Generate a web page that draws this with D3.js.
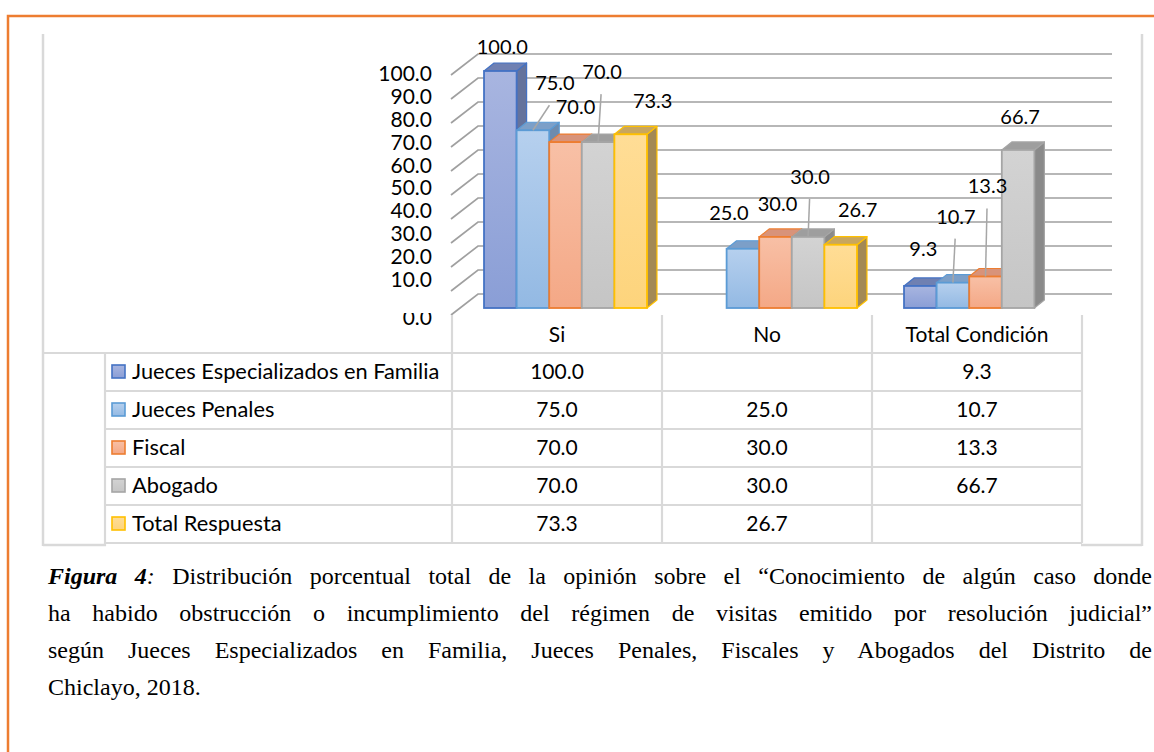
<!DOCTYPE html>
<html>
<head>
<meta charset="utf-8">
<script src="https://cdnjs.cloudflare.com/ajax/libs/d3/7.8.5/d3.min.js"></script>
<style>
  body { margin: 0; background: #fff; }
  svg { display: block; }
</style>
</head>
<body>
<div id="chart"></div>
<script>
// chart data
var categories = ["Si", "No", "Total Condición"];
var seriesNames = ["Jueces Especializados en Familia", "Jueces Penales", "Fiscal", "Abogado", "Total Respuesta"];
var juecesFamilia = [100.0, null, 9.3];
var juecesPenales = [75.0, 25.0, 10.7];
var fiscal = [70.0, 30.0, 13.3];
var abogado = [70.0, 30.0, 66.7];
var totalRespuesta = [73.3, 26.7, null];
var yTicks = [0, 10, 20, 30, 40, 50, 60, 70, 80, 90, 100];
var captionLines = [
  "Distribución porcentual total de la opinión sobre el “Conocimiento de algún caso donde",
  "ha habido obstrucción o incumplimiento del régimen de visitas emitido por resolución judicial”",
  "según Jueces Especializados en Familia, Jueces Penales, Fiscales y Abogados del Distrito de",
  "Chiclayo, 2018."
];

(function() {
  var width = 1154, height = 752;
  var values = [juecesFamilia, juecesPenales, fiscal, abogado, totalRespuesta];

  // look of each series (front gradient, top, side, outline)
  var looks = [
    { line: "#4472C4", hi: "#A8B5E0", lo: "#8A9ED6", top: "#6F80B2", side: "#65739C" },
    { line: "#5B9BD5", hi: "#B6D0EE", lo: "#93B9E3", top: "#7C9FC8", side: "#6E8BAE" },
    { line: "#ED7D31", hi: "#F8C0A6", lo: "#F4A886", top: "#D8937A", side: "#B57C62" },
    { line: "#A5A5A5", hi: "#D3D3D3", lo: "#C5C5C5", top: "#9E9E9E", side: "#8A8A8A" },
    { line: "#FFC000", hi: "#FFDD96", lo: "#FDD47C", top: "#C8A65E", side: "#A38955" }
  ];

  // where each data label sits, relative to its bar top: [dx, dy, leader]
  var labelPos = [
    [[2, -24, 0], null, [3, -37, 0]],
    [[22, -47, 1], [-14, -36, 0], [3, -66, 1]],
    [[10, -35, 0], [2, -33, 0], [2, -90, 1]],
    [[4, -70, 1], [2, -60, 1], [2, -33, 0]],
    [[22, -33, 0], [17, -35, 0], null]
  ];

  var svg = d3.select("#chart")
    .append("svg")
    .attr("width", width)
    .attr("height", height);

  var defs = svg.append("defs");

  looks.forEach(function(l, i) {
    var g = defs.append("linearGradient")
      .attr("id", "grad" + i)
      .attr("x1", 0).attr("y1", 0).attr("x2", 0).attr("y2", 1);
    g.append("stop").attr("offset", "0%").attr("stop-color", l.hi);
    g.append("stop").attr("offset", "100%").attr("stop-color", l.lo);
  });

  defs.append("clipPath").attr("id", "zeroClip")
    .append("rect").attr("x", 340).attr("y", 313).attr("width", 110).attr("height", 40);

  svg.append("rect")
    .attr("x", 8).attr("y", 16)
    .attr("width", 1300).attr("height", 900)
    .attr("fill", "none")
    .attr("stroke", "#ED7D31")
    .attr("stroke-width", 2.5);

  // scales
  var xCat = d3.scaleBand().domain(categories).range([460.5, 1090.5])
    .paddingInner(0.224).paddingOuter(0.112);
  var xSer = d3.scaleBand().domain(seriesNames).range([0, xCat.bandwidth()]);
  var y = d3.scaleLinear().domain([0, 100]).range([308, 71]);
  var yWall = d3.scaleLinear().domain([0, 100]).range([294, 54]);
  var yLabel = d3.scaleLinear().domain([10, 100]).range([280, 74]);
  var xTable = d3.scaleBand().domain(categories).range([452, 1082]);
  var yRow = d3.scaleBand().domain(seriesNames).range([353, 543]);

  var depthX = 10, depthY = 8;
  var wallX = 27, wallY = 21;
  var wallLeft = 451, wallRight = 1112;
  var sans = "Lato, 'Open Sans', sans-serif";

  // frame of the chart area
  var frame = svg.append("g").attr("stroke", "#D9D9D9").attr("stroke-width", 2.5).attr("fill", "none");
  frame.append("line").attr("x1", 43).attr("y1", 34).attr("x2", 43).attr("y2", 546);
  frame.append("line").attr("x1", 1142).attr("y1", 34).attr("x2", 1142).attr("y2", 546);
  frame.append("line").attr("x1", 43).attr("y1", 545).attr("x2", 106).attr("y2", 545);
  frame.append("line").attr("x1", 1081).attr("y1", 545).attr("x2", 1142).attr("y2", 545);

  // back wall gridlines
  var grid = svg.append("g");
  grid.selectAll(".grid")
    .data(yTicks)
    .enter().append("polyline")
    .attr("points", function(d) {
      return [wallLeft, yWall(d) + wallY, wallLeft + wallX, yWall(d), wallRight, yWall(d)].join(" ");
    })
    .attr("fill", "none")
    .attr("stroke", "#A0A0A0")
    .attr("stroke-width", 1.7);

  // y axis labels (the zero label sits lower and is cut at the top, as in the original)
  svg.append("g").selectAll("text")
    .data(yTicks)
    .enter().append("text")
    .attr("x", 432)
    .attr("y", function(d) { return yLabel(d) + (d === 0 ? 15 : 0) + 7; })
    .attr("clip-path", function(d) { return d === 0 ? "url(#zeroClip)" : null; })
    .attr("text-anchor", "end")
    .attr("font-family", sans)
    .attr("font-size", 21)
    .attr("fill", "#000")
    .text(function(d) { return d.toFixed(1); });

  // bars
  var bars = [];
  categories.forEach(function(c, ci) {
    seriesNames.forEach(function(s, si) {
      var v = values[si][ci];
      if (v === null) return;
      bars.push({ ci: ci, si: si, v: v, x: xCat(c) + xSer(s), w: xSer.bandwidth() });
    });
  });

  var barG = svg.append("g")
    .selectAll("g")
    .data(bars)
    .enter().append("g");

  barG.append("polygon")
    .attr("points", function(d) {
      var x1 = d.x + d.w, t = y(d.v), b = y(0);
      return [x1, t, x1 + depthX, t - depthY, x1 + depthX, b - depthY, x1, b].join(" ");
    })
    .attr("fill", function(d) { return looks[d.si].side; })
    .attr("stroke", function(d) { return looks[d.si].line; })
    .attr("stroke-width", 1.2)
    .attr("stroke-linejoin", "round");

  barG.append("polygon")
    .attr("points", function(d) {
      var t = y(d.v);
      return [d.x, t, d.x + depthX, t - depthY, d.x + d.w + depthX, t - depthY, d.x + d.w, t].join(" ");
    })
    .attr("fill", function(d) { return looks[d.si].top; })
    .attr("stroke", function(d) { return looks[d.si].line; })
    .attr("stroke-width", 1.2)
    .attr("stroke-linejoin", "round");

  barG.append("rect")
    .attr("x", function(d) { return d.x; })
    .attr("y", function(d) { return y(d.v); })
    .attr("width", function(d) { return d.w; })
    .attr("height", function(d) { return y(0) - y(d.v); })
    .attr("fill", function(d) { return "url(#grad" + d.si + ")"; })
    .attr("stroke", function(d) { return looks[d.si].line; })
    .attr("stroke-width", 1.8);

  // data labels with leader lines
  var labelG = svg.append("g");
  bars.forEach(function(d) {
    var p = labelPos[d.si][d.ci];
    var cx = d.x + d.w / 2, top = y(d.v);
    if (p[2]) {
      labelG.append("line")
        .attr("x1", cx).attr("y1", top)
        .attr("x2", cx + p[0] * 0.75).attr("y2", top + p[1] + 22)
        .attr("stroke", "#A6A6A6")
        .attr("stroke-width", 1.5);
    }
    labelG.append("text")
      .attr("x", cx + p[0])
      .attr("y", top + p[1] + 7)
      .attr("text-anchor", "middle")
      .attr("font-family", sans)
      .attr("font-size", 20)
      .attr("fill", "#000")
      .text(d.v.toFixed(1));
  });

  // data table
  var table = svg.append("g").attr("stroke", "#D9D9D9").attr("stroke-width", 2.2);
  table.append("line").attr("x1", 43).attr("y1", 353).attr("x2", 1082).attr("y2", 353);
  seriesNames.forEach(function(s) {
    table.append("line")
      .attr("x1", 105).attr("y1", yRow(s) + yRow.bandwidth())
      .attr("x2", 1082).attr("y2", yRow(s) + yRow.bandwidth());
  });
  table.append("line").attr("x1", 105).attr("y1", 353).attr("x2", 105).attr("y2", 546);
  categories.concat(["end"]).forEach(function(c, i) {
    var x = i < categories.length ? xTable(c) : xTable.range()[1];
    table.append("line").attr("x1", x).attr("y1", 315).attr("x2", x).attr("y2", 543);
  });

  svg.append("g").selectAll("text")
    .data(categories)
    .enter().append("text")
    .attr("x", function(d) { return xTable(d) + xTable.bandwidth() / 2; })
    .attr("y", 342)
    .attr("text-anchor", "middle")
    .attr("font-family", sans)
    .attr("font-size", 21)
    .attr("fill", "#000")
    .text(function(d) { return d; });

  var rows = svg.append("g").selectAll("g")
    .data(seriesNames)
    .enter().append("g")
    .attr("transform", function(d) { return "translate(0," + (yRow(d) + yRow.bandwidth() / 2) + ")"; });

  rows.append("rect")
    .attr("x", 112).attr("y", -7)
    .attr("width", 13).attr("height", 13)
    .attr("fill", function(d, i) { return "url(#grad" + i + ")"; })
    .attr("stroke", function(d, i) { return looks[i].line; })
    .attr("stroke-width", 1.6);

  rows.append("text")
    .attr("x", 132).attr("y", 7)
    .attr("font-family", sans)
    .attr("font-size", 21.8)
    .attr("fill", "#000")
    .text(function(d) { return d; });

  rows.each(function(s, si) {
    var row = d3.select(this);
    categories.forEach(function(c, ci) {
      var v = values[si][ci];
      if (v === null) return;
      row.append("text")
        .attr("x", xTable(c) + xTable.bandwidth() / 2)
        .attr("y", 7)
        .attr("text-anchor", "middle")
        .attr("font-family", sans)
        .attr("font-size", 21)
        .attr("fill", "#000")
        .text(v.toFixed(1));
    });
  });

  // caption, justified like the document paragraph
  var serif = "'Liberation Serif', 'Times New Roman', serif";
  var capLeft = 48, capRight = 1152;
  captionLines.forEach(function(line, i) {
    var t = svg.append("text")
      .attr("x", capLeft)
      .attr("y", 584 + i * 37)
      .attr("font-family", serif)
      .attr("font-size", 24)
      .attr("fill", "#000");
    var full = line;
    if (i === 0) {
      t.append("tspan").attr("font-weight", "bold").attr("font-style", "italic").text("Figura 4");
      t.append("tspan").attr("font-style", "italic").text(":");
      t.append("tspan").text(" " + line);
      full = "Figura 4: " + line;
    } else {
      t.text(line);
    }
    if (i < captionLines.length - 1) {
      var natural = t.node().getComputedTextLength();
      var spaces = full.split(" ").length - 1;
      var extra = ((capRight - capLeft) - natural) / spaces;
      if (extra > 0) {
        t.attr("word-spacing", extra);
      } else {
        t.attr("textLength", capRight - capLeft).attr("lengthAdjust", "spacingAndGlyphs");
      }
    }
  });
})();
</script>
</body>
</html>
